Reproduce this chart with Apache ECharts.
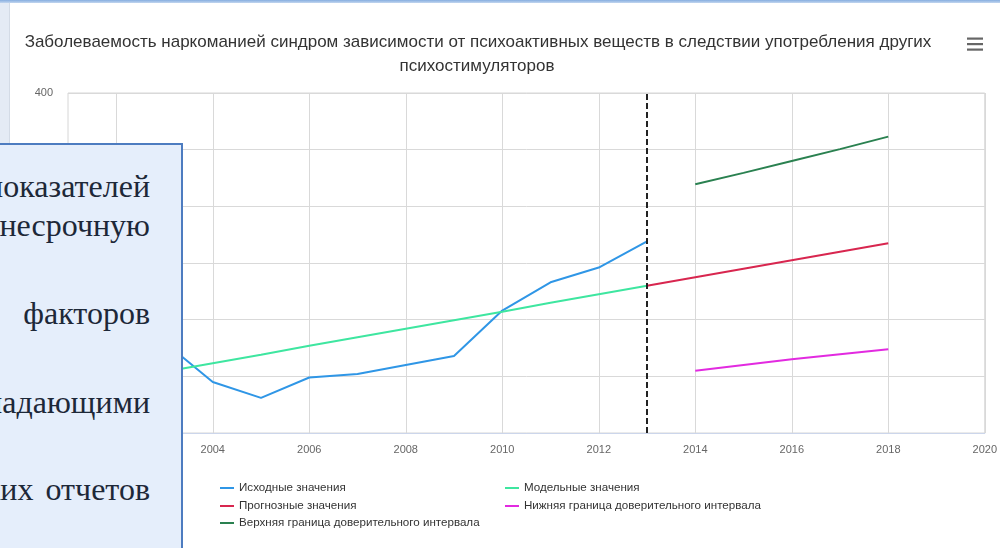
<!DOCTYPE html>
<html>
<head>
<meta charset="utf-8">
<script src="https://cdn.jsdelivr.net/npm/echarts@6/dist/echarts.min.js"></script>
<style>
  html, body { margin: 0; padding: 0; background: #ffffff; }
  #chart { position: absolute; left: 0; top: 0; width: 1000px; height: 548px; background: #ffffff; }
  #leftStrip { position: absolute; left: 0; top: 0; width: 9px; height: 548px; background: #e4ebf5; border-right: 1px solid #d3dbe6; }
  #topStrip { position: absolute; left: 0; top: 0; width: 1000px; height: 3px; background: linear-gradient(#86aee0, #c3d6ef); }
  #box { position: absolute; left: -10px; top: 143px; width: 189px; height: 420px; background: #e5eefb; border: 2px solid #4d7cc0; overflow: hidden; }
  .ln { position: absolute; right: 31px; white-space: nowrap; font-family: 'Liberation Serif', 'DejaVu Serif', serif; font-size: 32px; line-height: 32px; color: #1d2838; }
</style>
</head>
<body>
<div id="chart"></div>
<div id="leftStrip"></div>
<div id="topStrip"></div>
<div id="box">
  <div class="ln" style="top:25px">показателей</div>
  <div class="ln" style="top:64px">среднесрочную</div>
  <div class="ln" style="top:152px">факторов</div>
  <div class="ln" style="top:241px">обладающими</div>
  <div class="ln" style="top:328px;word-spacing:4px">статистических отчетов</div>
</div>
<script>
// ---- data ----
const years = ['2001','2002','2003','2004','2005','2006','2007','2008','2009','2010',
               '2011','2012','2013','2014','2015','2016','2017','2018','2019','2020'];
const yTicks = [100, 150, 200, 250, 300, 350, 400];

const sourceYears = ['2001','2002','2003','2004','2005','2006','2007','2008','2009','2010','2011','2012','2013'];
const sourceValues = [165, 190, 180, 145, 131, 149, 152, 160, 168, 208, 233, 246, 269];

const modelYears = ['2001','2002','2003','2004','2005','2006','2007','2008','2009','2010','2011','2012','2013'];
const modelValues = [139, 146.5, 154, 161.5, 169, 177, 184.5, 192, 199.5, 207, 215, 222.5, 230];

const forecastYears = ['2013','2014','2015','2016','2017','2018'];
const forecastValues = [230, 237.5, 245, 252.5, 260, 267.5];

const boundYears = ['2014','2015','2016','2017','2018'];
const lowerValues = [155, 160, 165, 169.5, 174];
const upperValues = [319.5, 329.5, 340, 350.5, 361.5];

const dividerYear = '2013';

const names = ['Исходные значения', 'Модельные значения', 'Прогнозные значения',
               'Нижняя граница доверительного интервала', 'Верхняя граница доверительного интервала'];
const colors = ['#2f96e6', '#3ee6a0', '#d8264f', '#e22ae0', '#2a8150'];

const titleLines = ['Заболеваемость наркоманией синдром зависимости от психоактивных веществ в следствии употребления других',
                    'психостимуляторов'];

function pairs(xs, vs) { return xs.map((x, i) => [x, vs[i]]); }

const chart = echarts.init(document.getElementById('chart'), null, { renderer: 'canvas' });
const FONT = "'Liberation Sans', Arial, sans-serif";

function lineSeries(idx, data, extra) {
  return Object.assign({
    name: names[idx], type: 'line', data: data, showSymbol: false, symbol: 'none',
    color: colors[idx], lineStyle: { width: 2, color: colors[idx] }, animation: false, z: 3
  }, extra || {});
}

function legendAt(idx, left, top) {
  return {
    data: [names[idx]], left: left, top: top, icon: 'rect', itemWidth: 14, itemHeight: 2,
    itemGap: 0, padding: 0, selectedMode: false,
    textStyle: { fontSize: 11.6, color: '#333', fontFamily: FONT, padding: [0, 0, 0, 0] }
  };
}

const option = {
  backgroundColor: '#ffffff',
  animation: false,
  grid: { left: 68, right: 14, top: 93, bottom: 115, containLabel: false, show: true, borderColor: '#d6d6d6', borderWidth: 1 },
  graphic: [
    { type: 'text', x: 478, y: 42, style: { text: titleLines[0], fill: '#333', font: '17px ' + FONT, textAlign: 'center', textVerticalAlign: 'middle' } },
    { type: 'text', x: 477, y: 66, style: { text: titleLines[1], fill: '#333', font: '17px ' + FONT, textAlign: 'center', textVerticalAlign: 'middle' } },
    { type: 'rect', shape: { x: 967, y: 37.5, width: 16, height: 2.2 }, style: { fill: '#666' } },
    { type: 'rect', shape: { x: 967, y: 43, width: 16, height: 2.2 }, style: { fill: '#666' } },
    { type: 'rect', shape: { x: 967, y: 48.5, width: 16, height: 2.2 }, style: { fill: '#666' } }
  ],
  legend: [
    legendAt(0, 220, 482),
    legendAt(1, 505, 482),
    legendAt(2, 220, 500),
    legendAt(3, 505, 500),
    legendAt(4, 220, 517)
  ],
  xAxis: {
    type: 'category', data: years, boundaryGap: false,
    axisLine: { lineStyle: { color: '#ccd6eb', width: 1 } },
    axisTick: { show: false },
    axisLabel: { interval: (i, v) => Number(v) % 2 === 0, color: '#666', fontSize: 11, fontFamily: FONT, margin: 11 },
    splitLine: { show: true, interval: (i, v) => Number(v) % 2 === 0, lineStyle: { color: '#d9d9d9', width: 1 } }
  },
  yAxis: {
    type: 'value', min: yTicks[0], max: yTicks[yTicks.length - 1], interval: yTicks[1] - yTicks[0],
    axisLine: { show: false }, axisTick: { show: false },
    axisLabel: { color: '#666', fontSize: 11, fontFamily: FONT, margin: 15 },
    splitLine: { lineStyle: { color: '#d9d9d9', width: 1 } }
  },
  series: [
    lineSeries(0, pairs(sourceYears, sourceValues), {
      markLine: {
        silent: true, symbol: 'none', animation: false,
        label: { show: false },
        lineStyle: { color: '#222', width: 2, type: [6, 3] },
        data: [{ xAxis: dividerYear }]
      }
    }),
    lineSeries(1, pairs(modelYears, modelValues)),
    lineSeries(2, pairs(forecastYears, forecastValues)),
    lineSeries(3, pairs(boundYears, lowerValues)),
    lineSeries(4, pairs(boundYears, upperValues))
  ]
};
chart.setOption(option);
</script>
</body>
</html>
